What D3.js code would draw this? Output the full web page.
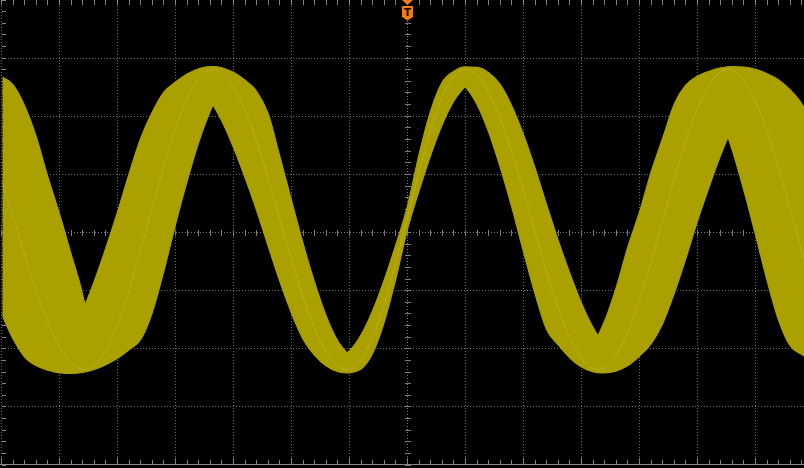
<!DOCTYPE html>
<html><head><meta charset="utf-8">
<script src="https://cdn.jsdelivr.net/npm/d3@7"></script>
<style>html,body{margin:0;padding:0;background:#000;overflow:hidden}</style>
</head><body>
<svg id="c" width="804" height="468"></svg>
<script>
// time in divisions (0 = trigger point), 14 divisions across
const time = [-7.0,-6.8,-6.6,-6.4,-6.2,-6.0,-5.8,-5.6,-5.56,-5.4,-5.2,-5.0,-4.8,-4.6,-4.4,-4.2,-4.0,-3.8,-3.6,-3.4,-3.353,-3.2,-3.0,-2.8,-2.6,-2.4,-2.2,-2.0,-1.8,-1.6,-1.4,-1.2,-1.043,-1.0,-0.8,-0.6,-0.4,-0.2,0.0,0.2,0.4,0.6,0.8,0.991,1.0,1.2,1.4,1.6,1.8,2.0,2.2,2.4,2.6,2.8,3.0,3.2,3.284,3.4,3.6,3.8,4.0,4.2,4.4,4.6,4.8,5.0,5.2,5.4,5.526,5.6,5.8,6.0,6.2,6.4,6.6,6.8,7.0];
// persistence envelope of channel 1 (divisions): upper edge
const upper = [2.675,2.538,2.176,1.643,0.955,0.318,-0.370,-1.067,-1.247,-0.836,-0.263,0.354,1.013,1.621,2.073,2.417,2.589,2.727,2.818,2.856,2.856,2.835,2.756,2.620,2.426,2.039,1.306,0.552,-0.189,-0.864,-1.440,-1.868,-2.073,-2.034,-1.758,-1.340,-0.810,-0.206,0.459,1.349,2.097,2.589,2.775,2.849,2.849,2.840,2.748,2.543,2.173,1.684,1.105,0.473,-0.139,-0.705,-1.215,-1.636,-1.781,-1.519,-0.939,-0.244,0.353,1.041,1.626,2.211,2.538,2.692,2.775,2.832,2.851,2.856,2.846,2.806,2.732,2.625,2.452,2.211,1.798];
// lower edge
const lower = [-1.400,-1.832,-2.142,-2.293,-2.369,-2.414,-2.426,-2.407,-2.400,-2.357,-2.273,-2.163,-2.016,-1.841,-1.376,-0.662,0.138,0.879,1.550,2.092,2.194,1.915,1.464,0.941,0.375,-0.243,-0.846,-1.388,-1.836,-2.114,-2.297,-2.395,-2.417,-2.414,-2.347,-2.078,-1.536,-0.793,0.058,0.721,1.330,1.858,2.262,2.508,2.500,2.199,1.724,1.115,0.427,-0.332,-1.060,-1.674,-1.935,-2.159,-2.314,-2.397,-2.412,-2.417,-2.383,-2.290,-2.125,-1.918,-1.566,-1.044,-0.444,0.196,0.783,1.332,1.643,1.412,0.723,-0.041,-0.829,-1.514,-1.953,-2.099,-2.211];
// brightest (most frequent) trace
const trace = [0.917,0.267,-0.389,-1.003,-1.538,-1.960,-2.237,-2.354,-2.357,-2.290,-2.025,-1.579,-0.988,-0.299,0.432,1.146,1.786,2.299,2.646,2.799,2.804,2.748,2.512,2.108,1.566,0.924,0.231,-0.463,-1.106,-1.650,-2.058,-2.299,-2.357,-2.352,-2.183,-1.794,-1.222,-0.516,0.258,1.055,1.769,2.333,2.689,2.804,2.804,2.699,2.410,1.958,1.376,0.709,0.005,-0.681,-1.302,-1.808,-2.163,-2.340,-2.357,-2.323,-2.109,-1.712,-1.163,-0.508,0.207,0.921,1.581,2.135,2.541,2.765,2.804,2.791,2.617,2.254,1.734,1.098,0.391,-0.329,-1.005];
// times where the envelope edges form a sharp notch
const upperNotches = [-5.56, -1.043, 3.284];
const lowerNotches = [-3.353, 0.991, 5.526];

const xDivs = d3.range(-7, 8);
const yDivs = d3.range(-4, 5);
const minorX = d3.range(-35, 36).map(k => k / 5);
const minorY = d3.range(-20, 21).map(k => k / 5);

const W = 804, H = 468;
const x = d3.scaleLinear().domain([-7, 7]).range([1.5, 813.5]);
const y = d3.scaleLinear().domain([-4, 4]).range([465, 0]);
const px = v => Math.round(x(v) - 0.5) + 0.5;
const py = v => Math.floor(y(v)) + 0.5;

const svg = d3.select('#c');
svg.append('rect').attr('width', W).attr('height', H).attr('fill', '#000');
svg.append('defs').append('clipPath').attr('id', 'clip')
  .append('rect').attr('x', 2.5).attr('y', 0).attr('width', 812).attr('height', 464);

const grid = svg.append('g').attr('shape-rendering', 'crispEdges');
grid.selectAll('line.gx').data(xDivs.filter(d => d !== 0)).join('line')
  .attr('x1', d => px(d)).attr('x2', d => px(d)).attr('y1', 0).attr('y2', 464)
  .attr('stroke', '#6e6e6e').attr('stroke-dasharray', '1,2');
grid.selectAll('line.gy').data(yDivs.filter(d => d !== 0 && d !== -4 && d !== 4)).join('line')
  .attr('x1', 2).attr('x2', W).attr('y1', d => py(d)).attr('y2', d => py(d))
  .attr('stroke', '#6e6e6e').attr('stroke-dasharray', '1,2');
grid.append('line').attr('x1', px(0)).attr('x2', px(0)).attr('y1', 0).attr('y2', 464)
  .attr('stroke', '#7a7a7a').attr('stroke-dasharray', '1,2');
grid.append('line').attr('x1', 2).attr('x2', W).attr('y1', py(0)).attr('y2', py(0))
  .attr('stroke', '#7a7a7a').attr('stroke-dasharray', '1,2');
grid.selectAll('line.tcx').data(minorX).join('line')
  .attr('x1', d => px(d)).attr('x2', d => px(d)).attr('y1', py(0) - 3).attr('y2', py(0) + 3)
  .attr('stroke', '#7c7c7c');
grid.selectAll('line.tcy').data(minorY).join('line')
  .attr('y1', d => py(d)).attr('y2', d => py(d)).attr('x1', px(0) - 3).attr('x2', px(0) + 3)
  .attr('stroke', '#7c7c7c');
grid.selectAll('line.tt').data(minorX).join('line')
  .attr('x1', d => px(d)).attr('x2', d => px(d)).attr('y1', 0).attr('y2', 5)
  .attr('stroke', '#858585');
grid.selectAll('line.tb').data(minorX).join('line')
  .attr('x1', d => px(d)).attr('x2', d => px(d)).attr('y1', d => (Math.abs(d - Math.round(d)) < 1e-6 ? 458 : 460)).attr('y2', 465)
  .attr('stroke', '#858585');
grid.selectAll('line.tl').data(minorY).join('line')
  .attr('y1', d => py(d)).attr('y2', d => py(d)).attr('x1', 2).attr('x2', 6)
  .attr('stroke', '#858585');
grid.append('line').attr('x1', 0).attr('x2', W).attr('y1', 464.5).attr('y2', 464.5)
  .attr('stroke', '#8a8a8a');

// smooth edge through the samples, kept sharp at the notches
function edgePath(vals, notches, reverse) {
  const cuts = notches.map(t => time.indexOf(t));
  const bounds = [0, ...cuts, time.length - 1];
  const segs = [];
  for (let j = 0; j < bounds.length - 1; j++) {
    segs.push(d3.range(bounds[j], bounds[j + 1] + 1).map(i => [x(time[i]), y(vals[i])]));
  }
  if (reverse) { segs.reverse(); segs.forEach(s => s.reverse()); }
  const gen = d3.line().curve(d3.curveMonotoneX);
  return segs.map((s, k) => { const d = gen(s); return k === 0 ? d : d.replace(/^M/, 'L'); }).join('');
}
const bandPath = edgePath(upper, upperNotches, false) + edgePath(lower, lowerNotches, true).replace(/^M/, 'L') + 'Z';
svg.append('path').attr('d', bandPath)
  .attr('fill', '#aaa000').attr('stroke', '#aaa000').attr('stroke-width', 1.2)
  .attr('stroke-linejoin', 'miter')
  .attr('clip-path', 'url(#clip)');
const line = d3.line().x((d, i) => x(time[i])).y((d, i) => y(trace[i])).curve(d3.curveMonotoneX);
svg.append('path').datum(time).attr('d', line)
  .attr('fill', 'none').attr('stroke', '#bdb42c').attr('stroke-width', 1)
  .attr('opacity', 0.7).attr('clip-path', 'url(#clip)');

const cx = x(0);
const mk = svg.append('g');
mk.append('path').attr('d', `M${cx-5.5},0 L${cx+5.5},0 L${cx},5 Z`).attr('fill', '#f07d12');
mk.append('path').attr('d', `M${cx-5.5},6 L${cx+5.5},6 L${cx+5.5},17 L${cx},20.5 L${cx-5.5},17 Z`).attr('fill', '#f07d12');
mk.append('text').attr('x', cx).attr('y', 16).attr('text-anchor', 'middle')
  .attr('font-family', 'DejaVu Sans, sans-serif').attr('font-weight', 'bold').attr('font-size', 10)
  .attr('fill', '#000').text('T');
</script>
</body></html>
